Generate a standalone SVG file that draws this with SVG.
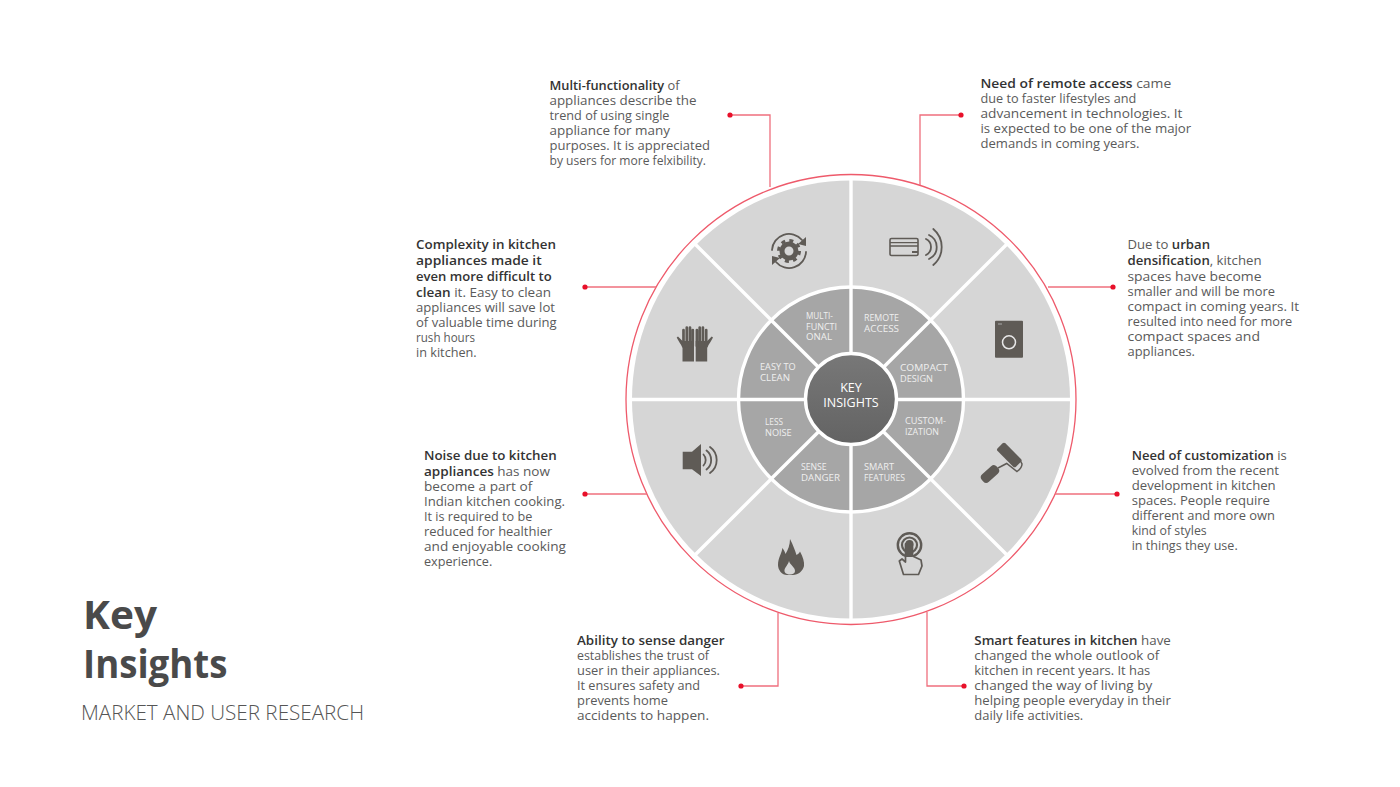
<svg xmlns="http://www.w3.org/2000/svg" width="1400" height="787" viewBox="0 0 1400 787">
<style>
text{font-family:"Open Sans","DejaVu Sans",sans-serif}
.b{font-size:12.6px;fill:#5a5a5a}
.b tspan.h{font-weight:600;fill:#333}
.w{font-size:9.2px;fill:#efefef}
.c{fill:none;stroke:#ef6f7d;stroke-width:1.3}
.d{fill:#e8102a}
.i{fill:#5f5b56}
.s{fill:none;stroke:#5f5b56;stroke-width:1.8;stroke-linecap:round}
</style>
<defs>
<linearGradient id="cg" x1="0" y1="0" x2="0" y2="1"><stop offset="0" stop-color="#787878"/><stop offset="1" stop-color="#636363"/></linearGradient>
<g id="glove"><path class="i" d="M682.500 361.500V348C681 344 678 340.500 676.700 337.500L678 336.500L682.500 341H694V361.500Z"/><path d="M683.500 346V330M686.800 346V327.500M690 346V327.500M692.800 346V330" stroke="#5f5b56" stroke-width="2.700" stroke-linecap="round" fill="none"/></g>
</defs>
<rect width="1400" height="787" fill="#fff"/>
<g id="wheel">
<circle cx="851" cy="399.500" r="225" fill="#fff" stroke="#ee5a6b" stroke-width="1.300"/>
<circle cx="851" cy="399.500" r="219" fill="#d6d6d6"/>
<path d="M851 178V621M630 399.500H1072M695 244L1007 555M1007 244L695 555" stroke="#fff" stroke-width="3.400" fill="none"/>
<circle cx="851" cy="399.500" r="112.500" fill="#a6a6a6" stroke="#fff" stroke-width="3.400"/>
<path d="M851 287V512M738 399.500H964M771 320L931 479M931 320L771 479" stroke="#fff" stroke-width="3.400" fill="none"/>
<circle cx="851" cy="399" r="45.500" fill="url(#cg)" stroke="#fff" stroke-width="3.400"/>
</g>
<g id="connectors">
<path class="c" d="M730 115H770V187"/><circle class="d" cx="730" cy="115" r="2.600"/>
<path class="c" d="M920 185V115H961"/><circle class="d" cx="961" cy="115" r="2.600"/>
<path class="c" d="M585 287H656"/><circle class="d" cx="585" cy="287" r="2.600"/>
<path class="c" d="M1048 287H1113"/><circle class="d" cx="1113" cy="287" r="2.600"/>
<path class="c" d="M585 494H647"/><circle class="d" cx="585" cy="494" r="2.600"/>
<path class="c" d="M1055 494H1117"/><circle class="d" cx="1117" cy="494" r="2.600"/>
<path class="c" d="M778 613V686H741"/><circle class="d" cx="741" cy="686" r="2.600"/>
<path class="c" d="M927 612V686H964"/><circle class="d" cx="964" cy="686" r="2.600"/>
</g>
<g id="center"><text x="851" y="392" text-anchor="middle" font-size="12.500" fill="#fff">KEY</text><text x="851" y="407" text-anchor="middle" font-size="12.500" fill="#fff">INSIGHTS</text></g>
<g id="seg-multi">
<text class="w" x="806" y="319" textLength="27" lengthAdjust="spacingAndGlyphs">MULTI-</text><text class="w" x="806" y="329.500" textLength="31" lengthAdjust="spacingAndGlyphs">FUNCTI</text><text class="w" x="806" y="340" textLength="26" lengthAdjust="spacingAndGlyphs">ONAL</text>
<g transform="translate(789 251)"><circle r="7" fill="none" stroke="#5f5b56" stroke-width="5"/><circle r="10.500" fill="none" stroke="#5f5b56" stroke-width="3" stroke-dasharray="4 4.250"/><path class="s" stroke-width="2.400" d="M-17 -1A17 17 0 0 1 13 -11M17 1A17 17 0 0 1 -13 11"/><path class="i" d="M17 -14L17 -5L9 -7ZM-17 14L-17 5L-9 7Z"/></g>
<text class="b" x="549.500" y="90" textLength="130" lengthAdjust="spacingAndGlyphs"><tspan class="h">Multi-functionality</tspan> of</text><text class="b" x="549.500" y="105" textLength="147" lengthAdjust="spacingAndGlyphs">appliances describe the</text><text class="b" x="549.500" y="120" textLength="120" lengthAdjust="spacingAndGlyphs">trend of using single</text><text class="b" x="549.500" y="135" textLength="120.500" lengthAdjust="spacingAndGlyphs">appliance for many</text><text class="b" x="549.500" y="150" textLength="160.500" lengthAdjust="spacingAndGlyphs">purposes. It is appreciated</text><text class="b" x="549.500" y="165" textLength="156.500" lengthAdjust="spacingAndGlyphs">by users for more felxibility.</text>
</g>
<g id="seg-remote">
<text class="w" x="864" y="321" textLength="35" lengthAdjust="spacingAndGlyphs">REMOTE</text><text class="w" x="864" y="332" textLength="35" lengthAdjust="spacingAndGlyphs">ACCESS</text>
<rect x="890" y="238.500" width="28" height="17" rx="1.500" fill="none" stroke="#5f5b56" stroke-width="1.600"/><path d="M890 242.700H918M890 246H918" stroke="#5f5b56" stroke-width="1.300"/><path d="M912 252H918" stroke="#5f5b56" stroke-width="2"/>
<path class="s" d="M926 239A8.900 8.900 0 0 1 926 255M929 235A13.200 13.200 0 0 1 929 259M933.300 229A23.500 23.500 0 0 1 933.300 265"/>
<text class="b" x="980.500" y="88" textLength="190.700" lengthAdjust="spacingAndGlyphs"><tspan class="h">Need of remote access</tspan> came</text><text class="b" x="980.500" y="103" textLength="155.700" lengthAdjust="spacingAndGlyphs">due to faster lifestyles and</text><text class="b" x="980.500" y="118" textLength="202" lengthAdjust="spacingAndGlyphs">advancement in technologies. It</text><text class="b" x="980.500" y="133" textLength="210.700" lengthAdjust="spacingAndGlyphs">is expected to be one of the major</text><text class="b" x="980.500" y="148" textLength="159" lengthAdjust="spacingAndGlyphs">demands in coming years.</text>
</g>
<g id="seg-compact">
<text class="w" x="900" y="371" textLength="47.700" lengthAdjust="spacingAndGlyphs">COMPACT</text><text class="w" x="900" y="382" textLength="33" lengthAdjust="spacingAndGlyphs">DESIGN</text>
<rect class="i" x="995" y="320.700" width="28" height="37" rx="1"/><circle cx="1009" cy="342.300" r="6.500" fill="none" stroke="#e8e8e8" stroke-width="1.500"/><path d="M998 324H1002" stroke="#aaa" stroke-width="1"/>
<text class="b" x="1127.500" y="249" textLength="82.500" lengthAdjust="spacingAndGlyphs">Due to <tspan class="h">urban</tspan></text><text class="b" x="1127.500" y="265" textLength="134" lengthAdjust="spacingAndGlyphs"><tspan class="h">densification</tspan>, kitchen</text><text class="b" x="1127.500" y="281" textLength="134" lengthAdjust="spacingAndGlyphs">spaces have become</text><text class="b" x="1127.500" y="296" textLength="147.500" lengthAdjust="spacingAndGlyphs">smaller and will be more</text><text class="b" x="1127.500" y="311" textLength="171.500" lengthAdjust="spacingAndGlyphs">compact in coming years. It</text><text class="b" x="1127.500" y="326" textLength="164.800" lengthAdjust="spacingAndGlyphs">resulted into need for more</text><text class="b" x="1127.500" y="341" textLength="132.500" lengthAdjust="spacingAndGlyphs">compact spaces and</text><text class="b" x="1127.500" y="356" textLength="67.500" lengthAdjust="spacingAndGlyphs">appliances.</text>
</g>
<g id="seg-custom">
<text class="w" x="905" y="424" textLength="41" lengthAdjust="spacingAndGlyphs">CUSTOM-</text><text class="w" x="905" y="434.500" textLength="34" lengthAdjust="spacingAndGlyphs">IZATION</text>
<rect class="i" x="-13" y="-5.500" width="26" height="11" rx="2" transform="translate(1009.300 455) rotate(45)"/><rect class="i" x="-10" y="-5" width="20" height="10" rx="4" transform="translate(990 474) rotate(-42)"/><path d="M1020 460L1022 464Q1022 468 1017 471.500L1006.700 463.500L998 468" fill="none" stroke="#5f5b56" stroke-width="1.500"/>
<text class="b" x="1131.700" y="460" textLength="155" lengthAdjust="spacingAndGlyphs"><tspan class="h">Need of customization</tspan> is</text><text class="b" x="1131.700" y="475" textLength="147.300" lengthAdjust="spacingAndGlyphs">evolved from the recent</text><text class="b" x="1131.700" y="490" textLength="144" lengthAdjust="spacingAndGlyphs">development in kitchen</text><text class="b" x="1131.700" y="505" textLength="138.300" lengthAdjust="spacingAndGlyphs">spaces. People require</text><text class="b" x="1131.700" y="520" textLength="143.300" lengthAdjust="spacingAndGlyphs">different and more own</text><text class="b" x="1131.700" y="535" textLength="75" lengthAdjust="spacingAndGlyphs">kind of styles</text><text class="b" x="1131.700" y="550" textLength="106" lengthAdjust="spacingAndGlyphs">in things they use.</text>
</g>
<g id="seg-smart">
<text class="w" x="864" y="469.500" textLength="30" lengthAdjust="spacingAndGlyphs">SMART</text><text class="w" x="864" y="480.500" textLength="41" lengthAdjust="spacingAndGlyphs">FEATURES</text>
<circle cx="909.500" cy="545" r="11.700" fill="none" stroke="#5f5b56" stroke-width="2.400"/><circle cx="909.500" cy="545" r="7.500" fill="none" stroke="#5f5b56" stroke-width="2.200"/><circle cx="909.500" cy="544" r="4" class="i"/>
<path d="M905.500 544Q909 539 912.500 544V556L921 560L922 566L918.500 574.500H903.500L899.300 561L902 559L905.500 562Z" fill="#d6d6d6" stroke="#5f5b56" stroke-width="1.700" stroke-linejoin="round"/>
<path d="M905.500 544Q909 539 912.500 544V557H905.500Z" class="i"/>
<text class="b" x="974.300" y="645" textLength="196.500" lengthAdjust="spacingAndGlyphs"><tspan class="h">Smart features in kitchen</tspan>  have</text><text class="b" x="974.300" y="660" textLength="185" lengthAdjust="spacingAndGlyphs">changed the whole outlook of</text><text class="b" x="974.300" y="675" textLength="176" lengthAdjust="spacingAndGlyphs">kitchen in recent years. It has</text><text class="b" x="974.300" y="690" textLength="178" lengthAdjust="spacingAndGlyphs">changed the way of living by</text><text class="b" x="974.300" y="705" textLength="196.500" lengthAdjust="spacingAndGlyphs">helping people everyday in their</text><text class="b" x="974.300" y="720" textLength="109" lengthAdjust="spacingAndGlyphs">daily life activities.</text>
</g>
<g id="seg-danger">
<text class="w" x="801" y="470" textLength="25.700" lengthAdjust="spacingAndGlyphs">SENSE</text><text class="w" x="801" y="481" textLength="39" lengthAdjust="spacingAndGlyphs">DANGER</text>
<path class="i" fill-rule="evenodd" d="M790 539C793 545 795 550 796.500 555C798 554 799.500 553 800 551.500C803 557 804.500 562 804 566C803 571 798 575 793 575L787 575C782 575 778 570 778 565C778 558 782 553 782.300 548C784 550 785 552 785.500 554C788 550 790 545 790 539ZM789 561C790 565 795 567 795 571C795 573 793 574.500 790 574.500C787 574.500 784 573 784.500 570C785 567 788 565 789 561Z"/>
<text class="b" x="577" y="645" textLength="147.500" lengthAdjust="spacingAndGlyphs"><tspan class="h">Ability to sense danger</tspan></text><text class="b" x="577" y="660" textLength="132" lengthAdjust="spacingAndGlyphs">establishes the trust of</text><text class="b" x="577" y="675" textLength="143" lengthAdjust="spacingAndGlyphs">user in their appliances.</text><text class="b" x="577" y="690" textLength="123" lengthAdjust="spacingAndGlyphs">It ensures safety and</text><text class="b" x="577" y="705" textLength="91" lengthAdjust="spacingAndGlyphs">prevents home</text><text class="b" x="577" y="720" textLength="132" lengthAdjust="spacingAndGlyphs">accidents to happen.</text>
</g>
<g id="seg-noise">
<text class="w" x="765" y="424.500" textLength="18" lengthAdjust="spacingAndGlyphs">LESS</text><text class="w" x="765" y="435.500" textLength="26.700" lengthAdjust="spacingAndGlyphs">NOISE</text>
<path class="i" d="M682.700 451.700H692L701 444V476L692 469.300H682.700Z"/><path class="s" stroke-width="2.400" d="M703.500 454.500A8 8 0 0 1 703.500 465.500M706.500 450.500A12 12 0 0 1 706.500 469.500M710 447A16 16 0 0 1 710 473"/>
<text class="b" x="424" y="460" textLength="132.700" lengthAdjust="spacingAndGlyphs"><tspan class="h">Noise due to kitchen</tspan></text><text class="b" x="424" y="476" textLength="126" lengthAdjust="spacingAndGlyphs"><tspan class="h">appliances</tspan> has now</text><text class="b" x="424" y="491" textLength="108.300" lengthAdjust="spacingAndGlyphs">become a part of</text><text class="b" x="424" y="506" textLength="141" lengthAdjust="spacingAndGlyphs">Indian kitchen cooking.</text><text class="b" x="424" y="521" textLength="108.300" lengthAdjust="spacingAndGlyphs">It is required to be</text><text class="b" x="424" y="536" textLength="128.300" lengthAdjust="spacingAndGlyphs">reduced for healthier</text><text class="b" x="424" y="551" textLength="142" lengthAdjust="spacingAndGlyphs">and enjoyable cooking</text><text class="b" x="424" y="566" textLength="68.300" lengthAdjust="spacingAndGlyphs">experience.</text>
</g>
<g id="seg-clean">
<text class="w" x="760" y="369.500" textLength="35.700" lengthAdjust="spacingAndGlyphs">EASY TO</text><text class="w" x="760" y="380.500" textLength="30" lengthAdjust="spacingAndGlyphs">CLEAN</text>
<use href="#glove"/><use href="#glove" transform="matrix(-1 0 0 1 1389.700 0)"/>
<text class="b" x="416" y="249" textLength="140" lengthAdjust="spacingAndGlyphs"><tspan class="h">Complexity in kitchen</tspan></text><text class="b" x="416" y="265" textLength="125.700" lengthAdjust="spacingAndGlyphs"><tspan class="h">appliances made it</tspan></text><text class="b" x="416" y="281" textLength="135.700" lengthAdjust="spacingAndGlyphs"><tspan class="h">even more difficult to</tspan></text><text class="b" x="416" y="297" textLength="135" lengthAdjust="spacingAndGlyphs"><tspan class="h">clean</tspan> it. Easy to clean</text><text class="b" x="416" y="312" textLength="139" lengthAdjust="spacingAndGlyphs">appliances will save lot</text><text class="b" x="416" y="327" textLength="140.700" lengthAdjust="spacingAndGlyphs">of valuable time during</text><text class="b" x="416" y="342" textLength="59" lengthAdjust="spacingAndGlyphs">rush hours</text><text class="b" x="416" y="357" textLength="60.700" lengthAdjust="spacingAndGlyphs">in kitchen.</text>
</g>
<g id="title">
<text x="83" y="628.500" font-size="40" font-weight="700" fill="#4a4a4a" textLength="74" lengthAdjust="spacingAndGlyphs">Key</text>
<text x="83" y="678" font-size="40" font-weight="700" fill="#4a4a4a" textLength="144.500" lengthAdjust="spacingAndGlyphs">Insights</text>
<text x="81" y="719.500" font-size="20" font-weight="300" fill="#555" textLength="283" lengthAdjust="spacingAndGlyphs">MARKET AND USER RESEARCH</text>
</g>
</svg>
